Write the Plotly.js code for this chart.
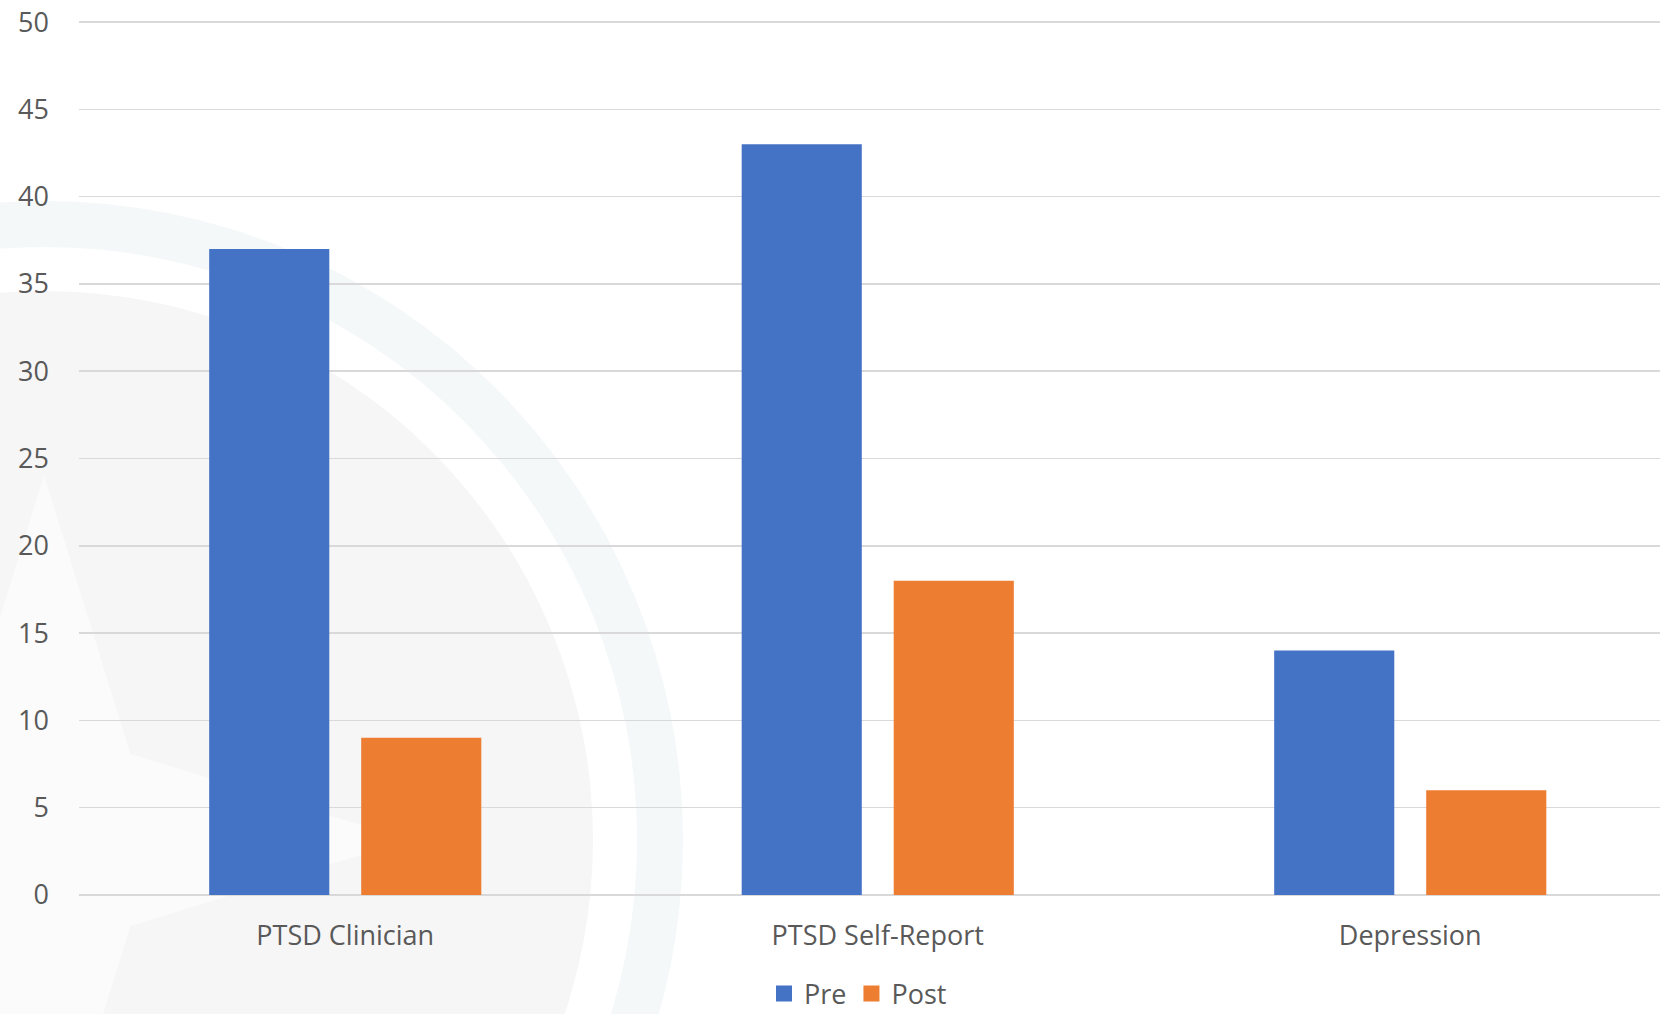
<!DOCTYPE html>
<html>
<head>
<meta charset="utf-8">
<script src="https://cdn.plot.ly/plotly-3.0.1.min.js"></script>
<style>html,body{margin:0;padding:0;background:#fff;}#chart{width:1660px;height:1014px;}</style>
</head>
<body>
<div id="chart"></div>
<script>
const categories = ["PTSD Clinician", "PTSD Self-Report", "Depression"];
const preValues = [37, 43, 14];
const postValues = [9, 18, 6];
const yTickValues = [0, 5, 10, 15, 20, 25, 30, 35, 40, 45, 50];
const seriesNames = ["Pre", "Post"];

const W = 1660, H = 1014;
const L = 79, T = 21, B = 119, R = 0;
const yMax = 50.06;
const plotW = W - L - R, plotH = H - T - B;
const catPx = 532.5;
const px2x = p => (p - L) / plotW;
const py2y = p => (H - B - p) / plotH;

const font = {family: "Open Sans, sans-serif", size: 27, color: "#595959"};
const preColor = "#4472C4", postColor = "#ED7D31";

const traces = [
  {type: "bar", x: categories, y: preValues, name: seriesNames[0], legendgroup: "pre", showlegend: false,
   marker: {color: preColor, line: {width: 0}}, hoverinfo: "x+y"},
  {type: "bar", x: categories, y: postValues, name: seriesNames[1], legendgroup: "post", showlegend: false,
   marker: {color: postColor, line: {width: 0}}, hoverinfo: "x+y"},
  {type: "scatter", mode: "markers", x: [null], y: [null], name: seriesNames[0], legendgroup: "pre",
   marker: {symbol: "square", size: 18, color: preColor}},
  {type: "scatter", mode: "markers", x: [null], y: [null], name: seriesNames[1], legendgroup: "post",
   marker: {symbol: "square", size: 18, color: postColor}}
];

// faint background watermark (decorative)
const cx = 44, cy = 840;
function circ(r, fill) {
  return {type: "circle", xref: "paper", yref: "paper", layer: "below",
    x0: px2x(cx - r), x1: px2x(cx + r), y0: py2y(cy + r), y1: py2y(cy - r),
    fillcolor: fill, line: {width: 0}};
}
function star(outer, inner, fill) {
  let d = "";
  for (let i = 0; i < 8; i++) {
    const ang = -Math.PI / 2 + i * Math.PI / 4;
    const r = (i % 2 === 0) ? outer : inner;
    const px = cx + r * Math.cos(ang), py = cy + r * Math.sin(ang);
    d += (i === 0 ? "M" : "L") + px2x(px).toFixed(5) + "," + py2y(py).toFixed(5);
  }
  return {type: "path", xref: "paper", yref: "paper", layer: "below", path: d + "Z",
    fillcolor: fill, line: {width: 0}};
}

const layout = {
  width: W, height: H,
  margin: {l: L, r: R, t: T, b: B, pad: 0, autoexpand: false},
  paper_bgcolor: "#ffffff",
  plot_bgcolor: "rgba(0,0,0,0)",
  font: font,
  barmode: "group",
  bargap: 0.429,
  bargroupgap: 0.21,
  showlegend: true,
  legend: {orientation: "h", x: px2x(858), xanchor: "center", y: py2y(994), yanchor: "middle",
    font: font, bgcolor: "rgba(0,0,0,0)", itemclick: false, traceorder: "normal"},
  xaxis: {
    type: "category", range: [-0.5, -0.5 + plotW / catPx],
    showgrid: false, zeroline: false, showline: false, ticks: "",
    tickfont: font, ticklabelstandoff: 22, fixedrange: true
  },
  yaxis: {
    range: [0, yMax], tickvals: yTickValues, ticktext: yTickValues.map(String),
    showgrid: true, gridcolor: "#d9d9d9", gridwidth: 1.5,
    zeroline: true, zerolinecolor: "#d9d9d9", zerolinewidth: 1.5,
    showline: false, ticks: "", tickfont: font, ticklabelstandoff: 29, fixedrange: true
  },
  shapes: [
    circ(639, "#f4f8f9"),
    circ(593, "#ffffff"),
    circ(549, "#f6f6f6"),
    star(365, 122, "#fbfbfb")
  ]
};

Plotly.newPlot("chart", traces, layout, {displayModeBar: false, staticPlot: true});
</script>
</body>
</html>
